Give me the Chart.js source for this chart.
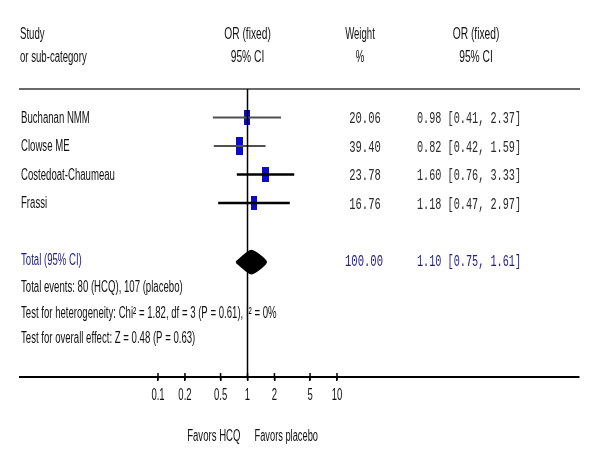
<!DOCTYPE html>
<html>
<head>
<meta charset="utf-8">
<script src="https://cdn.jsdelivr.net/npm/chart.js@4/dist/chart.umd.min.js"></script>
<style>
  html, body { margin: 0; padding: 0; background: #fff; }
  canvas { display: block; }
</style>
</head>
<body>
<canvas id="forest" width="600" height="468"></canvas>
<script>
// study data (odds ratios, fixed effect)
const studies = ['Buchanan NMM', 'Clowse ME', 'Costedoat-Chaumeau', 'Frassi'];
const weights = [20.06, 39.40, 23.78, 16.76];
const oddsRatio = [0.98, 0.82, 1.60, 1.18];
const ciLow = [0.41, 0.42, 0.76, 0.47];
const ciHigh = [2.37, 1.59, 3.33, 2.97];

const totalWeight = 100.00;
const totalOR = 1.10;
const totalLow = 0.75;
const totalHigh = 1.61;

const tickValues = [0.1, 0.2, 0.5, 1, 2, 5, 10];

const footLines = [
  'Total events: 80 (HCQ), 107 (placebo)',
  'Test for heterogeneity: Chi\u00b2 = 1.82, df = 3 (P = 0.61), I\u00b2 = 0%',
  'Test for overall effect: Z = 0.48 (P = 0.63)'
];

const X_MIN = 0.00287, X_MAX = 5058;
const Y_MAX = 10.1;
const TOTAL_ROW = 6;

const SANS = 'Liberation Sans, Arial, sans-serif';
const MONO = 'Liberation Mono, Courier New, monospace';
const NAVY = '#1e1e82';

// blue study boxes, size grows with weight
function boxImage(w) {
  const c = document.createElement('canvas');
  const h = Math.round(12 + w * 0.14);
  const wd = Math.round(5.5 + w * 0.045);
  c.width = wd; c.height = h;
  const g = c.getContext('2d');
  g.fillStyle = '#0b0bc8';
  g.fillRect(0, 0, wd, h);
  return c;
}

const datasets = [];

// null line at OR = 1
datasets.push({
  data: [{x: 1, y: 0}, {x: 1, y: Y_MAX}],
  showLine: true, borderColor: '#000', borderWidth: 1.5, pointRadius: 0
});

studies.forEach((s, i) => {
  datasets.push({
    label: s,
    data: [{x: ciLow[i], y: i + 1}, {x: ciHigh[i], y: i + 1}],
    showLine: true,
    borderColor: i < 2 ? '#505050' : '#000',
    borderWidth: i < 2 ? 2 : 2.5,
    pointRadius: 0
  });
  datasets.push({
    data: [{x: oddsRatio[i], y: i + 1}],
    pointStyle: boxImage(weights[i]),
    pointRadius: 6
  });
});

// pooled diamond
datasets.push({
  label: 'Total',
  data: [
    {x: totalLow, y: TOTAL_ROW + 0.07},
    {x: totalOR, y: TOTAL_ROW - 0.33},
    {x: totalHigh, y: TOTAL_ROW + 0.07},
    {x: totalOR, y: TOTAL_ROW + 0.47},
    {x: totalLow, y: TOTAL_ROW + 0.07}
  ],
  showLine: true, fill: 'shape', tension: 0.2,
  borderColor: '#000', backgroundColor: '#000', borderWidth: 2, pointRadius: 0
});

function txt(ctx, s, x, y, o) {
  ctx.save();
  ctx.font = (o.size || 16) + 'px ' + (o.family || SANS);
  ctx.fillStyle = o.color || '#111';
  ctx.textAlign = o.align || 'left';
  ctx.textBaseline = 'middle';
  ctx.translate(x, y);
  ctx.scale(o.sx || 0.6, 1);
  ctx.fillText(s, 0, 0);
  ctx.restore();
}

const tablePlugin = {
  id: 'table',
  afterDraw(chart) {
    const ctx = chart.ctx;
    const xs = chart.scales.x, ys = chart.scales.y;
    const x1 = xs.getPixelForValue(1);

    // headers
    txt(ctx, 'Study', 20, 35, {});
    txt(ctx, 'or sub-category', 20, 58, {});
    txt(ctx, 'OR (fixed)', x1, 35, {align: 'center', sx: 0.64});
    txt(ctx, '95% CI', x1, 58, {align: 'center', sx: 0.64});
    txt(ctx, 'Weight', 360, 35, {align: 'center', sx: 0.6});
    txt(ctx, '%', 360, 58, {align: 'center', sx: 0.6});
    txt(ctx, 'OR (fixed)', 476, 35, {align: 'center', sx: 0.64});
    txt(ctx, '95% CI', 476, 58, {align: 'center', sx: 0.64});

    studies.forEach((s, i) => {
      const y = ys.getPixelForValue(i + 1) + 1;
      txt(ctx, s, 21, y, {});
      txt(ctx, weights[i].toFixed(2), 365, y, {family: MONO, size: 17, sx: 0.62, align: 'center', color: '#2a2a2a'});
      txt(ctx, oddsRatio[i].toFixed(2) + ' [' + ciLow[i].toFixed(2) + ', ' + ciHigh[i].toFixed(2) + ']',
          417, y, {family: MONO, size: 17, sx: 0.6, color: '#2a2a2a'});
    });

    const yt = ys.getPixelForValue(TOTAL_ROW) + 1;
    txt(ctx, 'Total (95% CI)', 21, yt, {color: NAVY});
    txt(ctx, totalWeight.toFixed(2), 364, yt, {family: MONO, size: 17, sx: 0.62, align: 'center', color: NAVY});
    txt(ctx, totalOR.toFixed(2) + ' [' + totalLow.toFixed(2) + ', ' + totalHigh.toFixed(2) + ']',
        417, yt, {family: MONO, size: 17, sx: 0.6, color: NAVY});

    footLines.forEach((s, k) => {
      txt(ctx, s, 21, yt + 27 + 25.5 * k, {});
    });

    // tick marks and labels from the x scale's own ticks
    const yb = xs.top;
    ctx.save();
    ctx.strokeStyle = '#000';
    ctx.lineWidth = 1.5;
    xs.ticks.forEach((t, i) => {
      const px = xs.getPixelForTick(i);
      ctx.beginPath();
      ctx.moveTo(px, yb - 4);
      ctx.lineTo(px, yb + 3);
      ctx.stroke();
    });
    ctx.restore();
    xs.ticks.forEach((t, i) => {
      txt(ctx, String(t.value), xs.getPixelForTick(i), 395, {size: 17, sx: 0.56, align: 'center'});
    });

    txt(ctx, 'Favors HCQ', x1 - 7, 437, {size: 16, sx: 0.6, align: 'right'});
    txt(ctx, 'Favors placebo', x1 + 7, 437, {size: 16, sx: 0.58});
  }
};

new Chart(document.getElementById('forest'), {
  type: 'scatter',
  data: {datasets},
  options: {
    responsive: false,
    animation: false,
    devicePixelRatio: 1,
    layout: {padding: {left: 20, right: 21, top: 89, bottom: 87}},
    plugins: {legend: {display: false}, tooltip: {enabled: false}},
    scales: {
      x: {
        type: 'logarithmic', position: 'bottom', min: X_MIN, max: X_MAX,
        afterBuildTicks: s => { s.ticks = tickValues.map(v => ({value: v})); },
        grid: {drawOnChartArea: false, drawTicks: true, tickLength: 4, color: '#000', lineWidth: 1.5},
        border: {color: '#000', width: 2},
        ticks: {display: false}
      },
      xTop: {
        type: 'logarithmic', position: 'top', min: X_MIN, max: X_MAX,
        grid: {drawOnChartArea: false, drawTicks: false},
        border: {color: '#6a6a6a', width: 2},
        ticks: {display: false}
      },
      y: {type: 'linear', reverse: true, min: 0, max: Y_MAX, display: false}
    }
  },
  plugins: [tablePlugin]
});
</script>
</body>
</html>
